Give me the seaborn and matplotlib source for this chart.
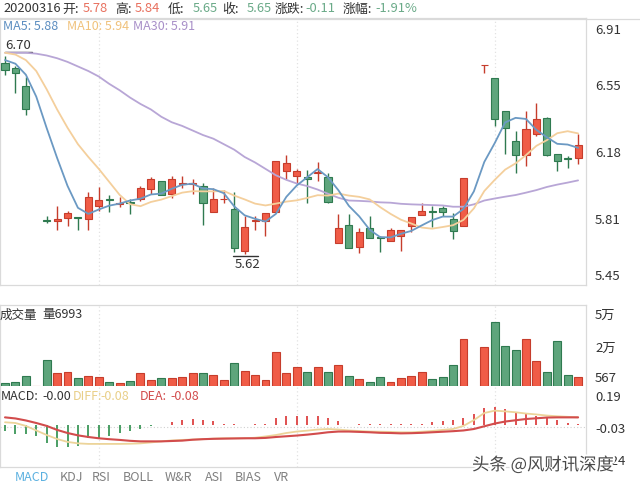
import numpy as np
import matplotlib
matplotlib.use("Agg")
import matplotlib.pyplot as plt
import seaborn as sns
from matplotlib import transforms, patheffects
from matplotlib.lines import Line2D

# ---------------- data ----------------
opens = [6.662, 6.638, 6.538, 6.094, 5.805, 5.80, 5.815, 5.82, 5.811, 5.883,
         5.92, 5.895, 5.905, 5.92, 5.975, 6.016, 5.947, 6.005, 6.005, 5.99,
         5.85, 5.918, 5.865, 5.635, 5.80, 5.80, 5.85, 6.074, 6.047, 6.04,
         6.065, 6.04, 5.68, 5.78, 5.656, 5.76, 5.71, 5.69, 5.72, 5.77,
         5.835, 5.852, 5.87, 5.81, 5.77, 6.336, 6.653, 6.584, 6.40, 6.24,
         6.16, 6.275, 6.365, 6.165, 6.142, 6.147]
highs = [6.70, 6.647, 6.59, 6.094, 5.83, 5.883, 5.856, 5.822, 5.956, 5.987,
         5.94, 5.929, 5.92, 5.99, 6.04, 6.02, 6.047, 6.045, 6.03, 6.01,
         5.98, 5.97, 5.956, 5.83, 5.83, 5.844, 6.13, 6.16, 6.087, 6.08,
         6.12, 6.065, 5.84, 5.84, 5.76, 5.83, 5.72, 5.76, 5.75, 5.82,
         5.896, 5.88, 5.88, 5.845, 6.034, 6.336, 6.653, 6.584, 6.40, 6.29,
         6.40, 6.445, 6.37, 6.165, 6.155, 6.275]
lows = [6.60, 6.50, 6.38, 6.094, 5.79, 5.752, 5.77, 5.752, 5.752, 5.856,
        5.85, 5.874, 5.84, 5.91, 5.947, 5.94, 5.924, 5.98, 5.95, 5.78,
        5.85, 5.90, 5.63, 5.62, 5.75, 5.72, 5.85, 6.03, 6.00, 5.90,
        6.02, 5.90, 5.68, 5.65, 5.625, 5.705, 5.63, 5.69, 5.635, 5.74,
        5.835, 5.765, 5.825, 5.70, 5.77, 6.336, 6.61, 6.32, 6.165, 6.065,
        6.10, 6.265, 6.155, 6.075, 6.09, 6.11]
closes = [6.625, 6.611, 6.415, 6.094, 5.80, 5.81, 5.843, 5.815, 5.929, 5.916,
          5.915, 5.90, 5.90, 5.98, 6.03, 5.942, 6.03, 6.01, 6.01, 5.90,
          5.92, 5.92, 5.65, 5.765, 5.805, 5.844, 6.13, 6.117, 6.074, 6.03,
          6.07, 5.905, 5.76, 5.65, 5.74, 5.705, 5.705, 5.75, 5.75, 5.82,
          5.856, 5.848, 5.847, 5.747, 6.034, 6.336, 6.653, 6.36, 6.31, 6.16,
          6.305, 6.356, 6.16, 6.13, 6.138, 6.215]
volumes = [2100, 3000, 6800, 200, 18200, 9100, 9600, 5800, 6800, 6100,
           3000, 2100, 3700, 9100, 4400, 5400, 5400, 6100, 8900, 8900,
           7700, 4400, 16100, 10300, 7700, 4400, 24000, 8900, 13500, 9600,
           13500, 9600, 14700, 6993, 4900, 3000, 6500, 3000, 5600, 7200,
           9600, 4900, 6500, 14900, 32900, 0, 27100, 44600, 27800, 25200,
           32900, 17300, 10000, 31700, 7700, 6500]
ma5 = [6.68, 6.66, 6.60, 6.48, 6.308, 6.145, 5.992, 5.872, 5.839, 5.863,
       5.884, 5.895, 5.912, 5.922, 5.945, 5.950, 5.976, 5.998, 6.004, 5.978,
       5.974, 5.952, 5.880, 5.831, 5.812, 5.797, 5.839, 5.932, 5.994, 6.039,
       6.084, 6.039, 5.968, 5.883, 5.825, 5.752, 5.712, 5.710, 5.730, 5.746,
       5.776, 5.805, 5.824, 5.824, 5.866, 5.962, 6.123, 6.226, 6.339, 6.364,
       6.358, 6.298, 6.258, 6.222, 6.218, 6.200]
ma10 = [6.72, 6.71, 6.68, 6.62, 6.52, 6.41, 6.31, 6.22, 6.15, 6.085,
        6.014, 5.943, 5.892, 5.881, 5.904, 5.917, 5.936, 5.955, 5.963, 5.962,
        5.962, 5.964, 5.939, 5.918, 5.895, 5.885, 5.895, 5.906, 5.913, 5.926,
        5.941, 5.939, 5.950, 5.939, 5.932, 5.918, 5.876, 5.839, 5.807, 5.786,
        5.764, 5.758, 5.767, 5.777, 5.806, 5.869, 5.964, 6.025, 6.081, 6.115,
        6.160, 6.211, 6.242, 6.280, 6.291, 6.279]
ma30 = [6.72, 6.72, 6.72, 6.715, 6.705, 6.69, 6.67, 6.645, 6.62, 6.59,
        6.55, 6.515, 6.475, 6.44, 6.41, 6.37, 6.34, 6.32, 6.295, 6.27,
        6.25, 6.22, 6.19, 6.15, 6.12, 6.085, 6.05, 6.025, 6.005, 5.991,
        5.972, 5.949, 5.927, 5.912, 5.910, 5.907, 5.902, 5.900, 5.894, 5.891,
        5.889, 5.887, 5.885, 5.878, 5.878, 5.891, 5.912, 5.923, 5.933, 5.942,
        5.955, 5.969, 5.986, 5.999, 6.010, 6.022]
diff = [0.015, 0.011, -0.005, -0.030, -0.055, -0.077, -0.093, -0.101, -0.104, -0.104,
        -0.104, -0.104, -0.103, -0.101, -0.096, -0.090, -0.085, -0.082, -0.080, -0.078,
        -0.075, -0.073, -0.073, -0.073, -0.070, -0.063, -0.055, -0.044, -0.036, -0.031,
        -0.025, -0.022, -0.025, -0.030, -0.033, -0.036, -0.037, -0.038, -0.040, -0.040,
        -0.037, -0.033, -0.027, -0.022, -0.005, 0.027, 0.066, 0.079, 0.075, 0.070,
        0.063, 0.058, 0.052, 0.048, 0.045, 0.042]
dea = [0.042, 0.036, 0.025, 0.011, -0.005, -0.027, -0.044, -0.057, -0.066, -0.073,
       -0.078, -0.082, -0.087, -0.090, -0.090, -0.090, -0.088, -0.086, -0.081, -0.078,
       -0.076, -0.075, -0.074, -0.073, -0.073, -0.071, -0.066, -0.062, -0.058, -0.053,
       -0.047, -0.040, -0.036, -0.036, -0.038, -0.040, -0.043, -0.044, -0.046, -0.045,
       -0.043, -0.040, -0.037, -0.034, -0.030, -0.022, -0.007, 0.008, 0.019, 0.026,
       0.033, 0.037, 0.041, 0.042, 0.042, 0.042]
macd = [-0.033, -0.048, -0.051, -0.060, -0.097, -0.121, -0.121, -0.115, -0.070, -0.070,
        -0.060, -0.042, -0.033, -0.020, -0.006, 0.002, 0.018, 0.026, 0.031, 0.026,
        0.022, 0.008, 0.004, -0.002, 0.004, 0.005, 0.040, 0.049, 0.049, 0.049,
        0.047, 0.040, 0.022, -0.001, 0.003, 0.003, 0.003, 0.003, 0.003, 0.005,
        0.008, 0.018, 0.022, 0.026, 0.040, 0.062, 0.095, 0.099, 0.086, 0.068,
        0.059, 0.049, 0.040, 0.026, 0.013, 0.005]

price_ticks = [6.91, 6.55, 6.18, 5.81, 5.45]
price_tick_labels = ["6.91", "6.55", "6.18", "5.81", "5.45"]
vol_ticks = [50000, 25000, 0]
vol_tick_labels = ["5万", "2万", "567"]
macd_ticks = [0.209, -0.011, -0.231]
macd_tick_labels = ["0.19", "-0.03", "-0.24"]
month_breaks = [9, 28, 47]
tabs = ["MACD", "KDJ", "RSI", "BOLL", "W&R", "ASI", "BIAS", "VR"]

# ---------------- style ----------------
sns.set_theme(style="white")
plt.rcParams["font.family"] = ["Noto Sans CJK SC", "DejaVu Sans"]
plt.rcParams["axes.unicode_minus"] = False

RED_FILL, RED_EDGE = "#f05c47", "#c63d2c"
GRN_FILL, GRN_EDGE = "#5ea57c", "#2f7a50"
DARK = "#333333"
TXT_RED, TXT_GRN = "#e8705e", "#6aaa88"
C_MA5, C_MA10, C_MA30 = "#6b99c3", "#f4cf9c", "#b8a6d6"
C_DIFF, C_DEA = "#ecd49a", "#d24c4c"
BORDER = "#dadada"

W, H = 640, 489
fig = plt.figure(figsize=(W / 100, H / 100), dpi=100)
fig.patch.set_facecolor("white")


def box(x0, y0, x1, y1):
    return [x0 / W, 1 - y1 / H, (x1 - x0) / W, (y1 - y0) / H]


ax_p = fig.add_axes(box(0, 19, 586, 286))
ax_v = fig.add_axes(box(0, 306, 586, 387), sharex=ax_p)
ax_m = fig.add_axes(box(0, 388, 586, 468), sharex=ax_p)

n = len(closes)
idx = np.arange(n)
o = np.array(opens); c = np.array(closes)
hi = np.array(highs); lo = np.array(lows)
vol = np.array(volumes, dtype=float)
up = c >= o
fills = np.where(up, RED_FILL, GRN_FILL)
edges = np.where(up, RED_EDGE, GRN_EDGE)

for a in (ax_p, ax_v, ax_m):
    a.set_facecolor("white")
    for s in a.spines.values():
        s.set_color(BORDER)
        s.set_linewidth(0.9)
    a.tick_params(left=False, right=False, bottom=False, labelleft=False,
                  labelbottom=False, labelright=False)
    for b in month_breaks:
        a.axvline(b, color="#e2e2e2", lw=0.9, ls=(0, (1, 2)), zorder=0)
ax_v.spines["bottom"].set_visible(False)
ax_m.spines["top"].set_visible(False)

ax_p.set_xlim(-0.48, 55.76)

# ---- candles ----
vis = hi > lo
ax_p.vlines(idx[vis], lo[vis], hi[vis], colors=edges[vis], lw=1.0, zorder=2)
ax_p.bar(idx[vis], np.abs(c - o)[vis], bottom=np.minimum(o, c)[vis], width=0.68,
         color=fills[vis], edgecolor=edges[vis], linewidth=0.8, zorder=3)

# ---- moving averages (seaborn) ----
sns.lineplot(x=idx, y=ma30, ax=ax_p, color=C_MA30, linewidth=1.3, zorder=4)
sns.lineplot(x=idx, y=ma10, ax=ax_p, color=C_MA10, linewidth=1.3, zorder=4)
sns.lineplot(x=idx, y=ma5, ax=ax_p, color=C_MA5, linewidth=1.3, zorder=5)
ax_p.set_ylim(price_ticks[-1], price_ticks[0])
ax_p.set_ylabel(""); ax_p.set_xlabel("")

# high / low markers
ih = int(np.argmax(hi)); il = int(np.argmin(lo))
t_up = transforms.offset_copy(ax_p.transData, fig=fig, x=0, y=4, units="dots")
ax_p.add_line(Line2D([ih, ih + 2.6], [hi[ih], hi[ih]], transform=t_up, color=DARK, lw=1.0))
ax_p.text(ih + 0.05, hi[ih], f"{hi[ih]:.2f}", transform=transforms.offset_copy(
    ax_p.transData, fig=fig, x=0, y=5, units="dots"), ha="left", va="bottom",
    fontsize=9.5, color=DARK)
t_dn = transforms.offset_copy(ax_p.transData, fig=fig, x=0, y=-2, units="dots")
ax_p.add_line(Line2D([il - 1.15, il + 1.28], [lo[il], lo[il]], transform=t_dn, color=DARK, lw=1.0))
ax_p.text(il - 0.95, lo[il], f"{lo[il]:.2f}", transform=transforms.offset_copy(
    ax_p.transData, fig=fig, x=0, y=-3, units="dots"), ha="left", va="top",
    fontsize=9.5, color=DARK)

# ---- volume ----
vmask = vol > 0
ax_v.bar(idx[vmask], vol[vmask], width=0.76, color=fills[vmask], edgecolor=edges[vmask],
         linewidth=0.8, zorder=3)
ax_v.set_ylim(0, 81 * 700)

# ---- MACD ----
mv = np.array(macd)
ax_m.vlines(idx, 0, mv, colors=np.where(mv >= 0, "#e05050", "#4a9e64"), lw=1.4, zorder=2)
ax_m.axhline(macd_ticks[1], color="#d0d0d0", lw=0.8, ls=(0, (1, 2)), zorder=1)
sns.lineplot(x=idx, y=diff, ax=ax_m, color=C_DIFF, linewidth=1.3, zorder=3)
sns.lineplot(x=idx, y=dea, ax=ax_m, color=C_DEA, linewidth=1.5, zorder=4)
ax_m.set_ylim(macd_ticks[-1], macd_ticks[0])
ax_m.set_ylabel("")

# ---- right axis labels ----
def right_labels(ax, vals, labs, offs):
    for v, lab, dy in zip(vals, labs, offs):
        tr = transforms.offset_copy(ax.get_yaxis_transform(), fig=fig, x=9, y=dy, units="dots")
        ax.text(1.0, v, lab, transform=tr, ha="left", va="center", fontsize=9.5, color=DARK,
                clip_on=False)

right_labels(ax_p, price_ticks, price_tick_labels, [-11, -2, -1, 0, 9])
right_labels(ax_v, vol_ticks, vol_tick_labels, [0, 3, 8])
right_labels(ax_m, macd_ticks, macd_tick_labels, [-10, -2, 6])

# ---- header texts ----
def ftxt(x, y, s, color=DARK, size=9.3, **kw):
    return fig.text(x / W, 1 - y / H, s, color=color, fontsize=size, ha="left", va="center", **kw)

row1 = [("20200316", 3, DARK), ("开:", 62, DARK), ("5.78", 83, TXT_RED), ("高:", 115, DARK),
        ("5.84", 135, TXT_RED), ("低:", 168, DARK), ("5.65", 193, TXT_GRN), ("收:", 222, DARK),
        ("5.65", 247, TXT_GRN), ("涨跌:", 275, DARK), ("-0.11", 305, TXT_GRN),
        ("涨幅:", 343, DARK), ("-1.91%", 375, TXT_GRN)]
for s, x, col in row1:
    ftxt(x, 9, s, col)
fig.add_artist(Line2D([0, 1], [1 - 19.5 / H] * 2, transform=fig.transFigure, color=BORDER, lw=0.9))

for s, x, col in [("MA5: 5.88", 3, "#5b8dc0"), ("MA10: 5.94", 67, "#f0c27c"),
                  ("MA30: 5.91", 133, "#a88fc8")]:
    ftxt(x, 27, s, col, size=9)

ftxt(0, 315, "成交量", DARK, size=9)
ftxt(42, 315, "量6993", DARK, size=9)

for s, x, col in [("MACD:", 1, DARK), ("-0.00", 42, DARK), ("DIFF:", 73, "#e9cf88"),
                  ("-0.08", 100, "#e9cf88"), ("DEA:", 140, C_DEA), ("-0.08", 170, C_DEA)]:
    ftxt(x, 397, s, col, size=9)

tab_x = [15, 60, 92, 123, 165, 205, 235, 274]
for t, x in zip(tabs, tab_x):
    ftxt(x, 478, t, "#5ab0e0" if t == "MACD" else "#808080", size=9)

wm = ftxt(472, 466, "头条 @风财讯深度", "#4a4a4a", size=12.5)
wm.set_path_effects([patheffects.withStroke(linewidth=3, foreground="white")])

fig.savefig("out.png", dpi=100, facecolor="white")
